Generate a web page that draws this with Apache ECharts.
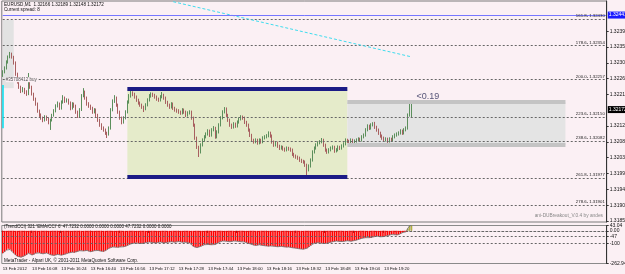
<!DOCTYPE html>
<html><head><meta charset="utf-8">
<script src="https://cdn.jsdelivr.net/npm/echarts@6/dist/echarts.min.js"></script>
<style>html,body{margin:0;padding:0;background:#fbf0f4;}#c{width:625px;height:274px;}</style>
</head><body><div id="c"></div>
<script>
// ---------- data (EURUSD M1, 13 Feb 2012, from 15:52) ----------
const opens = [
1.32270,1.32279,1.32290,1.32307,1.32322,1.32330,1.32322,1.32305,1.32273,1.32250,
1.32236,1.32225,1.32230,1.32222,1.32216,1.32256,1.32236,1.32216,1.32202,1.32188,
1.32168,1.32156,1.32148,1.32142,1.32151,1.32145,1.32136,1.32142,1.32156,1.32168,
1.32182,1.32188,1.32176,1.32193,1.32205,1.32196,1.32199,1.32191,1.32176,1.32188,
1.32182,1.32165,1.32154,1.32171,1.32211,1.32222,1.32205,1.32188,1.32182,1.32176,
1.32165,1.32171,1.32156,1.32142,1.32128,1.32119,1.32114,1.32105,1.32102,1.32119,
1.32171,1.32196,1.32205,1.32185,1.32165,1.32148,1.32136,1.32148,1.32165,1.32193,
1.32211,1.32219,1.32216,1.32208,1.32199,1.32191,1.32185,1.32179,1.32174,1.32185,
1.32199,1.32211,1.32216,1.32213,1.32208,1.32202,1.32199,1.32208,1.32213,1.32205,
1.32193,1.32185,1.32179,1.32188,1.32176,1.32171,1.32168,1.32165,1.32162,1.32171,
1.32165,1.32156,1.32162,1.32165,1.32148,1.32128,1.32091,1.32065,1.32051,1.32071,
1.32085,1.32094,1.32102,1.32111,1.32099,1.32114,1.32119,1.32094,1.32108,1.32128,
1.32148,1.32165,1.32174,1.32156,1.32142,1.32128,1.32122,1.32131,1.32125,1.32136,
1.32145,1.32151,1.32148,1.32136,1.32128,1.32114,1.32099,1.32085,1.32080,1.32085,
1.32077,1.32085,1.32080,1.32091,1.32094,1.32097,1.32105,1.32097,1.32080,1.32071,
1.32077,1.32068,1.32062,1.32065,1.32060,1.32057,1.32062,1.32060,1.32057,1.32045,
1.32040,1.32037,1.32034,1.32028,1.32025,1.32023,1.32014,1.32000,1.32011,1.32028,
1.32051,1.32062,1.32071,1.32077,1.32080,1.32085,1.32071,1.32057,1.32051,1.32057,
1.32062,1.32065,1.32054,1.32057,1.32065,1.32062,1.32068,1.32074,1.32085,1.32082,
1.32080,1.32085,1.32080,1.32082,1.32085,1.32088,1.32085,1.32094,1.32099,1.32114,
1.32125,1.32119,1.32128,1.32134,1.32122,1.32114,1.32105,1.32097,1.32091,1.32085,
1.32088,1.32082,1.32088,1.32085,1.32094,1.32099,1.32102,1.32105,1.32111,1.32105,
1.32114,1.32119,1.32156,1.32166];
const closes = [
1.32279,1.32290,1.32307,1.32322,1.32330,1.32322,1.32305,1.32273,1.32250,1.32236,
1.32225,1.32230,1.32222,1.32216,1.32256,1.32236,1.32216,1.32202,1.32188,1.32168,
1.32156,1.32148,1.32142,1.32151,1.32145,1.32136,1.32142,1.32156,1.32168,1.32182,
1.32188,1.32176,1.32193,1.32205,1.32196,1.32199,1.32191,1.32176,1.32188,1.32182,
1.32165,1.32154,1.32171,1.32211,1.32222,1.32205,1.32188,1.32182,1.32176,1.32165,
1.32171,1.32156,1.32142,1.32128,1.32119,1.32114,1.32105,1.32102,1.32119,1.32171,
1.32196,1.32205,1.32185,1.32165,1.32148,1.32136,1.32148,1.32165,1.32193,1.32211,
1.32219,1.32216,1.32208,1.32199,1.32191,1.32185,1.32179,1.32174,1.32185,1.32199,
1.32211,1.32216,1.32213,1.32208,1.32202,1.32199,1.32208,1.32213,1.32205,1.32193,
1.32185,1.32179,1.32188,1.32176,1.32171,1.32168,1.32165,1.32162,1.32171,1.32165,
1.32156,1.32162,1.32165,1.32148,1.32128,1.32091,1.32065,1.32051,1.32071,1.32085,
1.32094,1.32102,1.32111,1.32099,1.32114,1.32119,1.32094,1.32108,1.32128,1.32148,
1.32165,1.32174,1.32156,1.32142,1.32128,1.32122,1.32131,1.32125,1.32136,1.32145,
1.32151,1.32148,1.32136,1.32128,1.32114,1.32099,1.32085,1.32080,1.32085,1.32077,
1.32085,1.32080,1.32091,1.32094,1.32097,1.32105,1.32097,1.32080,1.32071,1.32077,
1.32068,1.32062,1.32065,1.32060,1.32057,1.32062,1.32060,1.32057,1.32045,1.32040,
1.32037,1.32034,1.32028,1.32025,1.32023,1.32014,1.32000,1.32011,1.32028,1.32051,
1.32062,1.32071,1.32077,1.32080,1.32085,1.32071,1.32057,1.32051,1.32057,1.32062,
1.32065,1.32054,1.32057,1.32065,1.32062,1.32068,1.32074,1.32085,1.32082,1.32080,
1.32085,1.32080,1.32082,1.32085,1.32088,1.32085,1.32094,1.32099,1.32114,1.32125,
1.32119,1.32128,1.32134,1.32122,1.32114,1.32105,1.32097,1.32091,1.32085,1.32088,
1.32082,1.32088,1.32085,1.32094,1.32099,1.32102,1.32105,1.32111,1.32105,1.32114,
1.32119,1.32156,1.32166,1.32172];
const lows = [
1.32265,1.32275,1.32286,1.32303,1.32318,1.32317,1.32300,1.32268,1.32246,1.32231,
1.32219,1.32221,1.32216,1.32211,1.32213,1.32231,1.32212,1.32197,1.32183,1.32163,
1.32151,1.32143,1.32136,1.32138,1.32140,1.32130,1.32114,1.32138,1.32152,1.32164,
1.32178,1.32171,1.32172,1.32189,1.32191,1.32192,1.32186,1.32170,1.32172,1.32177,
1.32160,1.32148,1.32150,1.32168,1.32207,1.32200,1.32183,1.32177,1.32171,1.32160,
1.32161,1.32151,1.32137,1.32123,1.32114,1.32109,1.32100,1.32091,1.32098,1.32115,
1.32167,1.32191,1.32180,1.32160,1.32143,1.32130,1.32132,1.32144,1.32161,1.32189,
1.32206,1.32210,1.32203,1.32194,1.32186,1.32180,1.32174,1.32165,1.32170,1.32181,
1.32195,1.32206,1.32208,1.32203,1.32197,1.32194,1.32195,1.32204,1.32200,1.32188,
1.32180,1.32174,1.32175,1.32171,1.32166,1.32163,1.32160,1.32157,1.32158,1.32160,
1.32151,1.32152,1.32158,1.32143,1.32123,1.32086,1.32060,1.32037,1.32047,1.32067,
1.32081,1.32090,1.32098,1.32094,1.32095,1.32110,1.32089,1.32090,1.32104,1.32124,
1.32144,1.32161,1.32151,1.32137,1.32123,1.32117,1.32118,1.32120,1.32121,1.32132,
1.32141,1.32143,1.32131,1.32123,1.32109,1.32094,1.32080,1.32075,1.32076,1.32072,
1.32073,1.32075,1.32076,1.32087,1.32090,1.32093,1.32092,1.32075,1.32066,1.32067,
1.32063,1.32057,1.32058,1.32055,1.32052,1.32053,1.32055,1.32052,1.32040,1.32035,
1.32032,1.32029,1.32023,1.32020,1.32018,1.32009,1.31985,1.31996,1.32007,1.32024,
1.32047,1.32058,1.32067,1.32073,1.32076,1.32066,1.32052,1.32046,1.32047,1.32053,
1.32058,1.32049,1.32050,1.32053,1.32057,1.32058,1.32064,1.32070,1.32077,1.32075,
1.32076,1.32075,1.32076,1.32078,1.32081,1.32080,1.32081,1.32090,1.32095,1.32110,
1.32114,1.32115,1.32124,1.32117,1.32109,1.32100,1.32092,1.32086,1.32080,1.32081,
1.32077,1.32078,1.32080,1.32081,1.32090,1.32095,1.32098,1.32101,1.32100,1.32101,
1.32110,1.32115,1.32152,1.32148];
const highs = [
1.32284,1.32295,1.32312,1.32326,1.32336,1.32334,1.32325,1.32309,1.32277,1.32254,
1.32240,1.32236,1.32234,1.32227,1.32276,1.32260,1.32240,1.32220,1.32206,1.32192,
1.32172,1.32161,1.32152,1.32156,1.32155,1.32149,1.32146,1.32160,1.32173,1.32187,
1.32195,1.32192,1.32198,1.32213,1.32209,1.32204,1.32203,1.32195,1.32193,1.32192,
1.32186,1.32169,1.32176,1.32216,1.32233,1.32226,1.32209,1.32193,1.32186,1.32180,
1.32176,1.32175,1.32160,1.32146,1.32133,1.32124,1.32118,1.32109,1.32124,1.32176,
1.32201,1.32213,1.32209,1.32189,1.32169,1.32152,1.32153,1.32170,1.32198,1.32216,
1.32228,1.32224,1.32220,1.32212,1.32203,1.32195,1.32189,1.32183,1.32190,1.32204,
1.32216,1.32221,1.32220,1.32217,1.32212,1.32206,1.32213,1.32222,1.32217,1.32209,
1.32197,1.32189,1.32193,1.32192,1.32180,1.32175,1.32173,1.32169,1.32176,1.32175,
1.32169,1.32167,1.32170,1.32169,1.32152,1.32132,1.32095,1.32069,1.32076,1.32090,
1.32099,1.32107,1.32116,1.32115,1.32119,1.32125,1.32123,1.32113,1.32133,1.32153,
1.32170,1.32179,1.32178,1.32160,1.32146,1.32132,1.32136,1.32135,1.32141,1.32150,
1.32156,1.32155,1.32152,1.32140,1.32132,1.32118,1.32103,1.32089,1.32090,1.32089,
1.32090,1.32089,1.32096,1.32099,1.32102,1.32110,1.32109,1.32101,1.32084,1.32082,
1.32081,1.32072,1.32070,1.32069,1.32064,1.32067,1.32066,1.32064,1.32061,1.32049,
1.32044,1.32041,1.32038,1.32032,1.32029,1.32027,1.32018,1.32016,1.32033,1.32056,
1.32067,1.32076,1.32082,1.32085,1.32091,1.32089,1.32075,1.32061,1.32062,1.32067,
1.32070,1.32069,1.32062,1.32070,1.32069,1.32073,1.32079,1.32090,1.32089,1.32086,
1.32090,1.32089,1.32087,1.32090,1.32093,1.32092,1.32099,1.32104,1.32119,1.32130,
1.32129,1.32133,1.32136,1.32137,1.32126,1.32118,1.32109,1.32101,1.32095,1.32093,
1.32092,1.32093,1.32092,1.32099,1.32104,1.32107,1.32110,1.32116,1.32115,1.32119,
1.32124,1.32161,1.32188,1.32189];
const cci = [
-180,-170,-155,-145,-150,-165,-180,-195,-205,-210,
-212,-208,-200,-195,-180,-185,-195,-190,-180,-175,
-178,-182,-185,-180,-178,-185,-192,-196,-198,-195,
-190,-192,-196,-194,-188,-182,-178,-175,-172,-176,
-170,-165,-160,-158,-162,-160,-158,-165,-168,-165,
-160,-156,-158,-162,-165,-168,-160,-150,-140,-135,
-130,-128,-132,-134,-130,-126,-128,-125,-118,-110,
-105,-100,-98,-95,-100,-104,-102,-98,-95,-92,
-90,-92,-95,-98,-96,-92,-90,-94,-97,-95,
-92,-90,-88,-90,-92,-88,-86,-90,-92,-90,
-92,-95,-98,-110,-125,-132,-135,-130,-125,-118,
-112,-108,-110,-114,-112,-108,-110,-100,-92,-86,
-82,-80,-84,-86,-88,-85,-82,-80,-84,-86,
-88,-86,-90,-95,-100,-105,-110,-115,-118,-116,
-112,-115,-118,-120,-122,-125,-122,-120,-124,-127,
-128,-126,-125,-128,-130,-132,-130,-133,-136,-138,
-140,-142,-145,-146,-148,-145,-140,-130,-118,-105,
-100,-98,-95,-96,-100,-104,-102,-98,-95,-92,
-88,-85,-82,-84,-86,-88,-85,-82,-80,-82,
-84,-82,-78,-75,-70,-65,-60,-58,-55,-52,
-55,-58,-50,-45,-42,-44,-48,-50,-46,-42,
-38,-35,-30,-28,-32,-35,-30,-25,-15,-10,
-8,20,41,43];

const fibLevels = ['161.8','178.6','200.0','223.6','238.6','261.8','278.6'];
const fibPrices = [1.32430,1.32354,1.32257,1.32150,1.32082,1.31977,1.31901];
const priceTicks = [1.31855,1.31900,1.31945,1.31990,1.32035,1.32080,1.32125,1.32215,1.32260,1.32305,1.32350,1.32395];
const cciTicks = [43.04,0,-47,-100,-262.94];
const cciTickLabels = ['43.04','0.00','-47','-100','-262.94'];
const timeSlots = ['15:52','16:08','16:24','16:40','16:56','17:12','17:28','17:44','18:00','18:16','18:32','18:48','19:04','19:20'];
const timeLabels = ['13 Feb 2012','13 Feb 16:08','13 Feb 16:24','13 Feb 16:40','13 Feb 16:56','13 Feb 17:12','13 Feb 17:28','13 Feb 17:44','13 Feb 18:00','13 Feb 18:16','13 Feb 18:32','13 Feb 18:48','13 Feb 19:04','13 Feb 19:20'];
const bluePrice = 1.32441, currentPrice = 1.32172, orderPrice = 1.32257;
const rangeBox = {from:'17:00', to:'19:00', high:1.32230, low:1.31980};
const zoneBox = {from:'19:00', to:'20:59', high:1.32193, low:1.32071};
const leftBox = {from:'15:52', to:'15:58', high:1.32427, low:1.32233};
const trend = {x1:'17:25', y1:1.32479, x2:'19:35', y2:1.32322};
const cyanBar = {x:'15:52', y1:1.32242, y2:1.32119};
const pipsNote = {x:'19:44', y:1.32210, text:'<0.19'};

// ---------- categories (1-minute slots) ----------
const pad = n => (n < 10 ? '0' : '') + n;
const cats = [];
for (let i = 0; i < 330; i++) { const m = 15 * 60 + 52 + i; cats.push(pad(Math.floor(m / 60)) + ':' + pad(m % 60)); }
const firstCat = cats[0], lastCat = cats[cats.length - 1];

const FONT = 'Liberation Sans';
const BG = '#fbf0f4';
const NONE = 'rgba(0,0,0,0)';
const candleData = closes.map((c, i) => [opens[i], c, lows[i], highs[i]]);
const cciData = cci.map(v => ({value: v, itemStyle: {color: v > 0 ? '#f4f400' : '#ff0000', borderColor: v > 0 ? '#8a8a40' : '#ff0000', borderWidth: v > 0 ? 0.6 : 0}}));
const showTime = (idx, val) => timeSlots.indexOf(val) >= 0;
const txt = (s, c) => ({fontSize: s, color: c || '#111', fontFamily: FONT, fontWeight: 'normal'});

const seg = (x1, y1, x2, y2, style, label) => [{coord: [x1, y1], lineStyle: style, label: label || {show: false}}, {coord: [x2, y2]}];
const hline = (p, style, label) => seg(firstCat, p, lastCat, p, style, label);

const fibLines = fibLevels.map((lv, k) => hline(fibPrices[k], {color: '#666', type: [2, 2], width: 1},
  {show: true, position: 'insideEndTop', formatter: lv + '- ' + fibPrices[k].toFixed(5), fontSize: 4.3, color: '#222', fontFamily: FONT, distance: 1}));

const option = {
  animation: false,
  backgroundColor: BG,
  title: [
    {text: 'EURUSD,M1  1.32166 1.32189 1.32148 1.32172', left: 4, top: 2, padding: 0, textStyle: txt(4.6)},
    {text: 'Current spread: 8', left: 4, top: 7.5, padding: 0, textStyle: txt(4.6)},
    {text: "(TrendCCI) 321 'EMA/CCI' 6' 47.7232 0.0000 0.0000 0.0000 47.7232 0.0000 0.0000", left: 4, top: 224.5, padding: 0, textStyle: txt(4.5)},
    {text: 'MetaTrader - Alpari UK, \u00a9 2001-2011 MetaQuotes Software Corp.', left: 4, top: 258.5, padding: 0, textStyle: txt(4.6)},
    {text: 'ani-DUBreakout_V.0.4 by andes', right: 22, top: 213, padding: 0, textStyle: txt(4.8, '#888')}
  ],
  grid: [
    {left: 1.8, right: 18.3, top: 1, height: 221, show: true, borderColor: '#7a7a7a', borderWidth: 1, outerBoundsMode: 'none', containLabel: false},
    {left: 1.8, right: 18.3, top: 225.5, height: 38, show: true, borderColor: '#8a8a8a', borderWidth: 1, outerBoundsMode: 'none', containLabel: false}
  ],
  xAxis: [
    {gridIndex: 0, type: 'category', data: cats, boundaryGap: true, axisLine: {show: false}, axisTick: {show: false}, axisLabel: {show: false}},
    {gridIndex: 1, type: 'category', data: cats, boundaryGap: true,
     axisLine: {show: true, lineStyle: {color: '#666', type: [2, 2]}},
     axisTick: {show: true, interval: showTime, length: 2, lineStyle: {color: '#333'}},
     axisLabel: {show: true, interval: showTime, showMinLabel: true, hideOverlap: false, align: 'left', margin: 3, fontSize: 4.3, color: '#111', fontFamily: FONT,
       formatter: v => timeLabels[timeSlots.indexOf(v)]}}
  ],
  yAxis: [
    {gridIndex: 0, type: 'value', position: 'right', min: 1.31852, max: 1.32481, splitLine: {show: false},
     axisLine: {show: true, lineStyle: {color: '#333'}},
     axisTick: {show: true, length: 2, customValues: priceTicks, lineStyle: {color: '#333'}},
     axisLabel: {customValues: priceTicks, formatter: v => v.toFixed(5), fontSize: 5, margin: 3, color: '#111', fontFamily: FONT}},
    {gridIndex: 1, type: 'value', position: 'right', min: -262.94, max: 43.04, splitLine: {show: false},
     axisLine: {show: true, lineStyle: {color: '#333'}},
     axisTick: {show: true, length: 2, customValues: cciTicks, lineStyle: {color: '#333'}},
     axisLabel: {customValues: cciTicks, formatter: v => cciTickLabels[cciTicks.indexOf(v)] || '', fontSize: 5, margin: 3, color: '#111', fontFamily: FONT}}
  ],
  series: [
    {
      name: 'objects', type: 'line', xAxisIndex: 0, yAxisIndex: 0, data: [], z: 1, silent: true,
      markArea: {silent: true, data: [
        [{xAxis: rangeBox.from, yAxis: rangeBox.high, itemStyle: {color: '#e5ebca'}}, {xAxis: rangeBox.to, yAxis: rangeBox.low}],
        [{xAxis: zoneBox.from, yAxis: zoneBox.high, itemStyle: {color: '#e4e4e4'}}, {xAxis: zoneBox.to, yAxis: zoneBox.low}],
        [{xAxis: leftBox.from, yAxis: leftBox.high, itemStyle: {color: '#e2e2e2'}}, {xAxis: leftBox.to, yAxis: leftBox.low}]
      ]},
      markLine: {silent: true, symbol: ['none', 'none'], data: [
        ...fibLines,
        seg(rangeBox.from, rangeBox.high, rangeBox.to, rangeBox.high, {color: '#1b1b86', width: 4, type: 'solid'}),
        seg(rangeBox.from, rangeBox.low, rangeBox.to, rangeBox.low, {color: '#1b1b86', width: 4, type: 'solid'}),
        seg(zoneBox.from, zoneBox.high, zoneBox.to, zoneBox.high, {color: '#c4c4c4', width: 4, type: 'solid'}),
        seg(zoneBox.from, zoneBox.low, zoneBox.to, zoneBox.low, {color: '#c4c4c4', width: 4, type: 'solid'}),
        seg(cyanBar.x, cyanBar.y1, cyanBar.x, cyanBar.y2, {color: '#00e0f0', width: 1.5, type: 'solid'}),
        seg(trend.x1, trend.y1, trend.x2, trend.y2, {color: '#3fdcee', width: 1, type: [3, 2]}),
        hline(bluePrice, {color: '#7676ff', width: 1, type: 'solid'},
          {show: true, position: 'end', formatter: bluePrice.toFixed(5), fontSize: 5, color: '#fff', backgroundColor: '#1a1aff', padding: [1, 1], distance: 2, fontFamily: FONT}),
        hline(orderPrice, {color: NONE, width: 1},
          {show: true, position: 'insideStart', formatter: '#35708412 buy', fontSize: 4.5, color: '#555', fontFamily: FONT, backgroundColor: BG, distance: 3}),
        hline(currentPrice, {color: NONE, width: 1},
          {show: true, position: 'end', formatter: currentPrice.toFixed(5), fontSize: 5, color: '#fff', backgroundColor: '#000', padding: [1, 1], distance: 2, fontFamily: FONT})
      ]}
    },
    {
      name: 'note', type: 'scatter', xAxisIndex: 0, yAxisIndex: 0, symbolSize: 0, z: 4, silent: true,
      data: [[pipsNote.x, pipsNote.y]],
      label: {show: true, position: 'inside', formatter: pipsNote.text, fontSize: 9, color: '#2c2c58', fontFamily: FONT}
    },
    {
      name: 'EURUSD', type: 'candlestick', xAxisIndex: 0, yAxisIndex: 0, data: candleData, z: 3, barWidth: 1.2,
      itemStyle: {color: '#0d7a0d', color0: '#b83232', borderColor: '#5c8f5c', borderColor0: '#a86060', borderWidth: 1}
    },
    {
      name: 'TrendCCI', type: 'bar', xAxisIndex: 1, yAxisIndex: 1, data: cciData, barWidth: 1.4, z: 2,
      markLine: {silent: true, symbol: ['none', 'none'], label: {show: false}, data: [
        seg(firstCat, -47, lastCat, -47, {color: '#666', type: [2, 2], width: 1}),
        seg(firstCat, -100, lastCat, -100, {color: '#666', type: [2, 2], width: 1})
      ]}
    },
    {
      name: 'CCI', type: 'line', xAxisIndex: 1, yAxisIndex: 1, data: cci, symbol: 'none', z: 3,
      lineStyle: {color: '#707070', width: 0.8}
    }
  ]
};
const chart = echarts.init(document.getElementById('c'), null, {renderer: 'canvas'});
chart.setOption(option);
</script></body></html>
